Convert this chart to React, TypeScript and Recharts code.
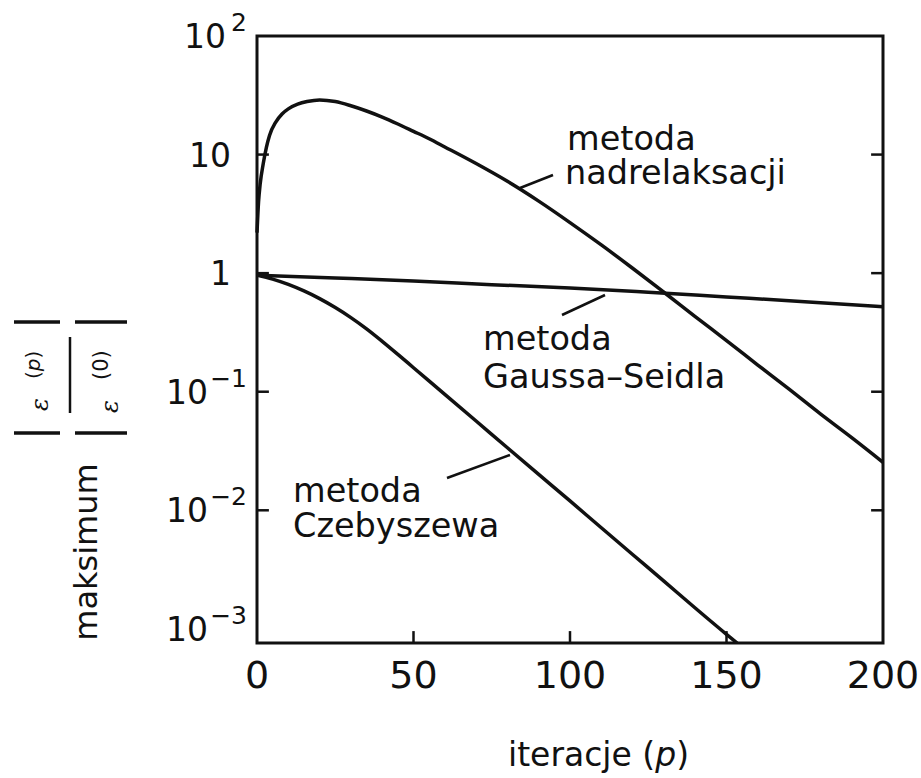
import { LineChart, Line, XAxis, YAxis, ReferenceArea, ReferenceLine } from "recharts";

// iteration axis
const xTicks = [0, 50, 100, 150, 200];
const xInnerTicks = [50, 100, 150];

// log axis, the frame runs a little below 10^-3 in the original
const yTicks = [0.001, 0.01, 0.1, 1, 10, 100];
const yTickBase = ["10", "10", "10", "1", "10", "10"];
const yTickExp = ["−3", "−2", "−1", "", "", "2"];
const yInnerTicks = [0.01, 0.1, 1, 10];
const Y_MIN = 0.00076;
const Y_MAX = 100;

// metoda nadrelaksacji
const sorP = [0, 0.5, 1, 2, 3, 4, 6, 8, 10, 13, 16, 20, 25, 30, 35, 40, 45, 50, 55, 60, 70, 80, 90, 100, 110, 120, 130, 140, 150, 160, 170, 180, 190, 200];
const sorValues = [2.2, 4.0, 5.6, 8.4, 11.5, 14.5, 18.8, 22.0, 24.3, 26.6, 28.0, 28.9, 28.0, 25.8, 23.3, 20.7, 18.1, 15.7, 13.6, 11.6, 8.4, 5.95, 4.05, 2.67, 1.73, 1.1, 0.69, 0.43, 0.27, 0.168, 0.105, 0.065, 0.041, 0.0254];

// metoda Gaussa-Seidla
const gsP = [0, 25, 50, 75, 100, 125, 150, 175, 200];
const gsValues = [0.96, 0.91, 0.86, 0.8, 0.75, 0.69, 0.63, 0.575, 0.52];

// metoda Czebyszewa
const czP = [0, 5, 10, 15, 20, 25, 30, 35, 40, 45, 50, 60, 70, 80, 90, 100, 110, 120, 130, 140, 150, 153.4];
const czValues = [0.966, 0.891, 0.804, 0.708, 0.61, 0.513, 0.422, 0.339, 0.266, 0.2065, 0.1594, 0.095, 0.0566, 0.0337, 0.0201, 0.012, 0.00712, 0.00424, 0.00253, 0.0015, 0.0009, 0.00076];

const toRows = (ps: number[], vs: number[]) => ps.map((p, i) => ({ p, v: vs[i] }));

const INK = "#111";
const FONT = "'DejaVu Sans', sans-serif";
// inner tick length, in data units
const TICK_X = 3.8;
const TICK_Y = 1.26;

function XTick(props: any) {
  const { x, y, payload } = props;
  return (
    <text x={x} y={y + 45} textAnchor="middle" fontSize={38} fontFamily={FONT} fill={INK}>
      {payload.value}
    </text>
  );
}

function YTick(props: any) {
  const { x, y, payload } = props;
  const i = yTicks.indexOf(payload.value);
  if (i < 0) return null;
  const exp = yTickExp[i];
  const baseEnd = exp === "" ? x - 26 : exp === "2" ? x - 31 : x - 49;
  return (
    <g>
      <text x={baseEnd} y={y + 12} textAnchor="end" fontSize={33} fontFamily={FONT} fill={INK}>
        {yTickBase[i]}
      </text>
      {exp && (
        <text x={x - 10} y={y - 5} textAnchor="end" fontSize={25} fontFamily={FONT} fill={INK}>
          {exp}
        </text>
      )}
    </g>
  );
}

export default function App() {
  return (
    <div style={{ position: "absolute", left: 0, top: 0, width: 921, height: 778, background: "#fff" }}>
      <LineChart width={921} height={778} margin={{ top: 36, right: 38, left: 197, bottom: 75 }}>
        <XAxis
          dataKey="p"
          type="number"
          domain={[0, 200]}
          ticks={xTicks}
          interval={0}
          height={60}
          axisLine={false}
          tickLine={false}
          tickSize={0}
          tickMargin={0}
          tick={<XTick />}
        />
        <YAxis
          type="number"
          scale="log"
          domain={[Y_MIN, Y_MAX]}
          allowDataOverflow
          ticks={yTicks}
          interval={0}
          width={60}
          axisLine={false}
          tickLine={false}
          tickSize={0}
          tickMargin={0}
          tick={<YTick />}
        />
        <ReferenceArea x1={0} x2={200} y1={Y_MIN} y2={Y_MAX} fill="none" stroke={INK} strokeWidth={3} />
        {yInnerTicks.map((v) => (
          <ReferenceLine key={"l" + v} segment={[{ x: 0, y: v }, { x: TICK_X, y: v }]} stroke={INK} strokeWidth={2.5} />
        ))}
        {yInnerTicks.map((v) => (
          <ReferenceLine key={"r" + v} segment={[{ x: 200 - TICK_X, y: v }, { x: 200, y: v }]} stroke={INK} strokeWidth={2.5} />
        ))}
        {xInnerTicks.map((p) => (
          <ReferenceLine key={"b" + p} segment={[{ x: p, y: Y_MIN }, { x: p, y: Y_MIN * TICK_Y }]} stroke={INK} strokeWidth={2.5} />
        ))}
        <Line data={toRows(sorP, sorValues)} dataKey="v" type="monotone" stroke={INK} strokeWidth={3.5} dot={false} isAnimationActive={false} />
        <Line data={toRows(gsP, gsValues)} dataKey="v" type="monotone" stroke={INK} strokeWidth={3.5} dot={false} isAnimationActive={false} />
        <Line data={toRows(czP, czValues)} dataKey="v" type="monotone" stroke={INK} strokeWidth={3.5} dot={false} isAnimationActive={false} />
      </LineChart>

      <svg width={921} height={778} style={{ position: "absolute", left: 0, top: 0, pointerEvents: "none" }}>
        <g fontFamily={FONT} fontSize={33.5} fill={INK}>
          <text x={567} y={150}>
            metoda
            <tspan x={565} dy={34}>nadrelaksacji</tspan>
          </text>
          <text x={483} y={350}>
            metoda
            <tspan x={483} dy={38}>Gaussa–Seidla</tspan>
          </text>
          <text x={293} y={502}>
            metoda
            <tspan x={293} dy={35}>Czebyszewa</tspan>
          </text>
          <text x={508} y={766} fontSize={33}>
            iteracje (<tspan fontStyle="italic">p</tspan>)
          </text>
          <text transform="translate(97,552) rotate(-90)" textAnchor="middle" fontSize={32}>maksimum</text>
        </g>
        <g stroke={INK} strokeWidth={2.5}>
          <line x1={520} y1={188} x2={553} y2={175} />
          <line x1={562} y1={315} x2={605} y2={295} />
          <line x1={447} y1={478} x2={510} y2={455} />
        </g>
        <g transform="translate(70,375) rotate(-90)" fill={INK}>
          <line x1={-38} y1={0} x2={38} y2={0} stroke={INK} strokeWidth={2.5} />
          <line x1={53} y1={-56} x2={53} y2={-10} stroke={INK} strokeWidth={3.5} />
          <line x1={-58} y1={-56} x2={-58} y2={-10} stroke={INK} strokeWidth={3.5} />
          <line x1={53} y1={5} x2={53} y2={57} stroke={INK} strokeWidth={3.5} />
          <line x1={-58} y1={5} x2={-58} y2={57} stroke={INK} strokeWidth={3.5} />
          <text x={-36} y={-22} fontFamily="'DejaVu Serif', serif" fontStyle="italic" fontSize={24}>ε</text>
          <text x={-4} y={-30} fontFamily={FONT} fontSize={20}>
            (<tspan fontStyle="italic">p</tspan>)
          </text>
          <text x={-38} y={48} fontFamily="'DejaVu Serif', serif" fontStyle="italic" fontSize={24}>ε</text>
          <text x={-5} y={38} fontFamily={FONT} fontSize={21}>(0)</text>
        </g>
      </svg>
    </div>
  );
}
